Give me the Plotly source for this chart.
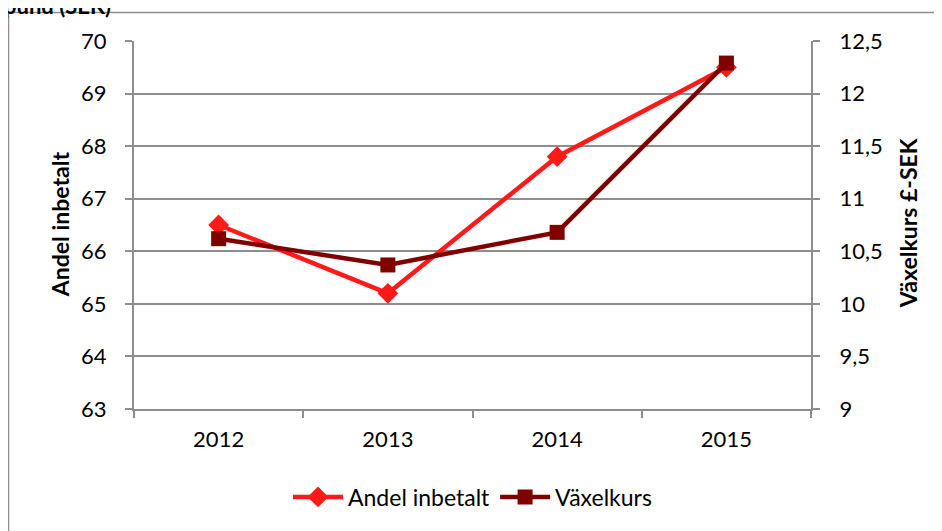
import plotly.graph_objects as go

years = ["2012", "2013", "2014", "2015"]
andel = [66.5, 65.2, 67.8, 69.5]
vaxelkurs = [10.62, 10.37, 10.68, 12.29]
left_ticks = [63, 64, 65, 66, 67, 68, 69, 70]
right_ticks = [9, 9.5, 10, 10.5, 11, 11.5, 12, 12.5]
right_ticktext = ["9", "9,5", "10", "10,5", "11", "11,5", "12", "12,5"]

# page offset of the plot div (body margin)
OFF = 8
W, H = 942 - OFF, 531 - OFF
L, R, T, B = 134 - OFF, 811 - OFF, 40.7 - OFF, 409 - OFF
pw, ph = R - L, B - T
def px(x): return (x - OFF - L) / pw
def py(y): return (B - (y - OFF)) / ph

font = "Lato, 'Open Sans', sans-serif"
grid = "#8e8e8e"

fig = go.Figure()
fig.add_trace(go.Scatter(x=years, y=andel, name="Andel inbetalt", mode="lines+markers",
                         line=dict(color="#ff1a1a", width=4.5),
                         marker=dict(symbol="diamond", size=16, color="#ff1a1a")))
fig.add_trace(go.Scatter(x=years, y=vaxelkurs, name="Växelkurs", mode="lines+markers",
                         yaxis="y2", line=dict(color="#800000", width=4.5),
                         marker=dict(symbol="square", size=15, color="#800000")))

fig.update_layout(
    width=W, height=H,
    margin=dict(l=L, r=W - R, t=T, b=H - B, autoexpand=False),
    paper_bgcolor="white", plot_bgcolor="white",
    separators=", ",
    font=dict(family=font, size=22, color="black"),
    showlegend=True,
    legend=dict(orientation="h", x=0.5, xanchor="center", y=py(497), yanchor="middle",
                font=dict(size=23), itemwidth=50),
    xaxis=dict(type="category", tickson="boundaries", ticks="outside", ticklen=7,
               tickcolor=grid, tickwidth=2, showline=True, linecolor=grid, linewidth=2,
               showgrid=False, range=[-0.5, 3.5], ticklabelstandoff=10),
    yaxis=dict(range=[63, 70], tickvals=left_ticks, ticks="outside", ticklen=7,
               tickcolor=grid, tickwidth=2, showline=True, linecolor=grid, linewidth=2,
               showgrid=True, gridcolor=grid, gridwidth=2, zeroline=False,
               ticklabelstandoff=14),
    yaxis2=dict(range=[9, 12.5], tickvals=right_ticks, ticktext=right_ticktext,
                overlaying="y", side="right", ticks="outside", ticklen=7,
                tickcolor=grid, tickwidth=2, showline=True, linecolor=grid, linewidth=2,
                showgrid=False, zeroline=False, ticklabelstandoff=15),
    shapes=[dict(type="rect", xref="paper", yref="paper",
                 x0=px(8.5), x1=px(960), y0=py(560), y1=py(12.3),
                 line=dict(color=grid, width=1.5), layer="below")],
    annotations=[
        dict(text="<b>pund (SEK)</b>", xref="paper", yref="paper", x=px(2), y=py(5),
             xanchor="left", yanchor="middle", showarrow=False, font=dict(size=22)),
        dict(text="<b>Andel inbetalt</b>", xref="paper", yref="paper", x=px(60), y=py(224),
             xanchor="center", yanchor="middle", textangle=-90, showarrow=False,
             font=dict(size=23)),
        dict(text="<b>Växelkurs £-SEK</b>", xref="paper", yref="paper", x=px(908), y=py(223),
             xanchor="center", yanchor="middle", textangle=-90, showarrow=False,
             font=dict(size=23)),
    ],
)

fig.write_html("out.html")
